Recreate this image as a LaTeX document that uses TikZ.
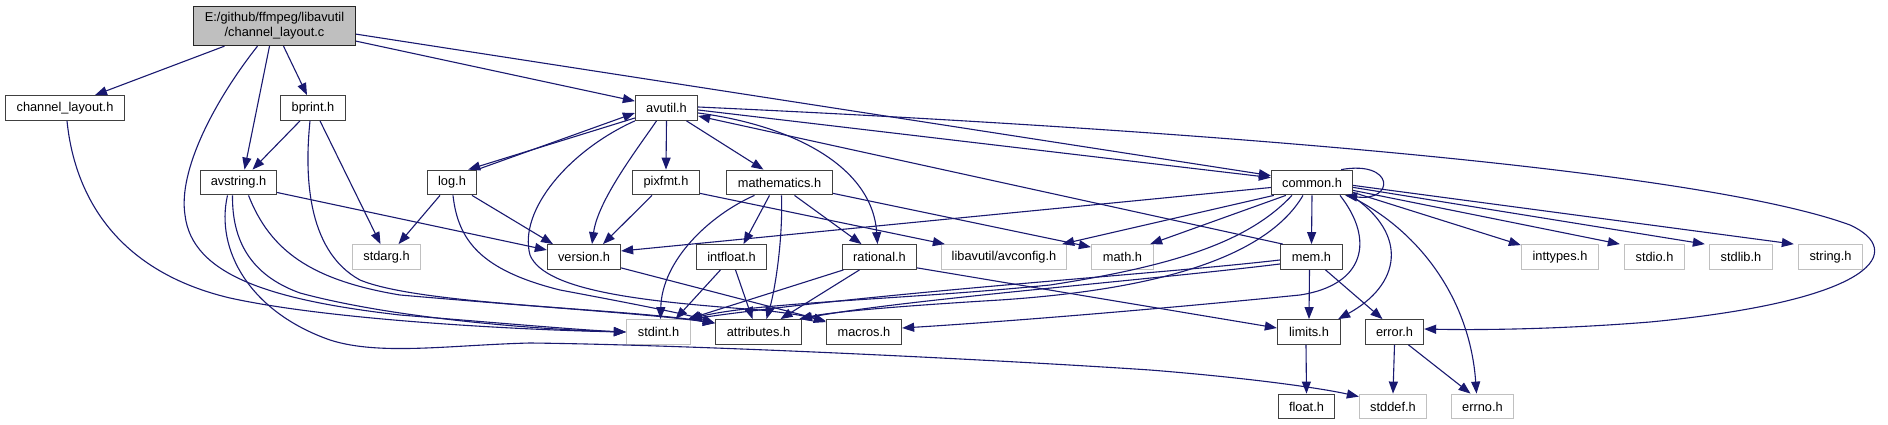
\documentclass[tikz,border=0pt]{standalone}
\usepackage{fontspec}
\setmainfont{Liberation Sans}
\usetikzlibrary{arrows.meta}
\definecolor{edgeblue}{HTML}{191970}
\definecolor{rootgray}{HTML}{BFBFBF}
\definecolor{lightborder}{HTML}{C0C0C0}
\definecolor{darkborder}{HTML}{404040}
\begin{document}
\begin{tikzpicture}[x=1pt,y=-1pt,
  box/.style={draw=darkborder, fill=white, line width=1.3pt, minimum height=24.5pt, inner sep=0pt, font=\fontsize{12.8}{15}\selectfont, anchor=center},
  gbox/.style={box, draw=lightborder},
  rbox/.style={box, fill=rootgray, draw=black!85, align=center, minimum height=39pt},
  edge/.style={draw=edgeblue, line width=1.1pt, -{Triangle[length=12pt,width=9pt]}}
]
\fill[white] (0,0) rectangle (1888,425);
\useasboundingbox (0,0) rectangle (1888,425);

% nodes
\node[rbox, minimum width=162pt] (root) at (274.5,26) {E:/github/ffmpeg/libavutil\\/channel\_layout.c};
\node[box, minimum width=119pt] (chlh) at (65,108) {channel\_layout.h};
\node[box, minimum width=65pt] (bprint) at (313,108) {bprint.h};
\node[box, minimum width=62pt] (avutil) at (666.5,108) {avutil.h};
\node[box, minimum width=76pt] (avstring) at (238.5,182.5) {avstring.h};
\node[box, minimum width=49pt] (logh) at (452,182.5) {log.h};
\node[box, minimum width=67pt] (pixfmt) at (666,182.5) {pixfmt.h};
\node[box, minimum width=106pt] (mathematics) at (779.5,182.5) {mathematics.h};
\node[box, minimum width=81pt] (common) at (1312,182.5) {common.h};
\node[gbox, minimum width=68pt] (stdarg) at (386.5,257) {stdarg.h};
\node[box, minimum width=73pt] (version) at (584,257) {version.h};
\node[box, minimum width=70pt] (intfloat) at (731.5,257) {intfloat.h};
\node[box, minimum width=74pt] (rational) at (879.5,257) {rational.h};
\node[gbox, minimum width=125pt] (avconfig) at (1004,257) {libavutil/avconfig.h};
\node[gbox, minimum width=62pt] (mathh) at (1122.5,257) {math.h};
\node[box, minimum width=62pt] (mem) at (1311.5,257) {mem.h};
\node[gbox, minimum width=77pt] (inttypes) at (1560,257) {inttypes.h};
\node[gbox, minimum width=60pt] (stdio) at (1654.5,257) {stdio.h};
\node[gbox, minimum width=63pt] (stdlib) at (1741,257) {stdlib.h};
\node[gbox, minimum width=64pt] (stringh) at (1830.5,257) {string.h};
\node[gbox, minimum width=64pt] (stdint) at (658.5,332) {stdint.h};
\node[box, minimum width=86pt] (attributes) at (758.5,332) {attributes.h};
\node[box, minimum width=75pt] (macros) at (864,332) {macros.h};
\node[box, minimum width=63pt] (limits) at (1309,332) {limits.h};
\node[box, minimum width=58pt] (error) at (1394.5,332) {error.h};
\node[box, minimum width=56pt] (floath) at (1306.5,406.5) {float.h};
\node[gbox, minimum width=67pt] (stddef) at (1393,406.5) {stddef.h};
\node[gbox, minimum width=62pt] (errno) at (1482.5,406.5) {errno.h};

% root edges
\draw[edge] ([shift={(-50,0)}]root.south) -- ([shift={(30,0)}]chlh.north);
\draw[edge] ([shift={(-5,0)}]root.south) -- ([shift={(6,0)}]avstring.north);
\draw[edge] ([shift={(9,0)}]root.south) -- ([shift={(-6,0)}]bprint.north);
\draw[edge] ([shift={(0,-5)}]root.south east) -- ([shift={(0,6)}]avutil.north west);
\draw[edge] ([shift={(0,-12)}]root.south east) -- ([shift={(0,6)}]common.north west);
\draw[edge] ([shift={(-17,0)}]root.south) .. controls (215,100) and (178,170) .. (185,215)
  .. controls (192,275) and (270,300) .. (400,315) .. controls (500,323) and (580,330) .. (stdint.west);

% channel_layout.h
\draw[edge] ([shift={(2,0)}]chlh.south) .. controls (75,200) and (120,272) .. (230,298)
  .. controls (330,320) and (520,330) .. (stdint.west);

% bprint.h
\draw[edge] ([shift={(-13,0)}]bprint.south) -- ([shift={(14,0)}]avstring.north);
\draw[edge] ([shift={(7,0)}]bprint.south) -- ([shift={(-6,0)}]stdarg.north);
\draw[edge] ([shift={(-3,0)}]bprint.south) .. controls (305,170) and (305,250) .. (360,280)
  .. controls (420,305) and (620,308) .. ([shift={(0,4)}]attributes.north west);

% avstring.h
\draw[edge] ([shift={(0,10)}]avstring.east) -- ([shift={(0,-7)}]version.west);
\draw[edge] ([shift={(-6,0)}]avstring.south) .. controls (232,240) and (250,275) .. (300,293)
  .. controls (400,320) and (550,330) .. (stdint.west);
\draw[edge] ([shift={(10,0)}]avstring.south) .. controls (270,250) and (310,280) .. (400,295)
  .. controls (550,308) and (650,314) .. ([shift={(0,4)}]attributes.north west);
\draw[edge] ([shift={(-11,0)}]avstring.south) .. controls (215,250) and (250,312) .. (330,340)
  .. controls (380,356) and (450,345) .. (530,343) .. controls (700,345) and (1000,360) .. (1150,370)
  .. controls (1250,378) and (1320,388) .. ([shift={(0,3)}]stddef.north west);

% log.h
\draw[edge] ([shift={(0,0)}]logh.north east) -- ([shift={(0,5)}]avutil.west);
\draw[edge] ([shift={(0,10)}]avutil.west) -- ([shift={(-9,0)}]logh.north east);
\draw[edge] ([shift={(-12,0)}]logh.south) -- ([shift={(12,0)}]stdarg.north);
\draw[edge] ([shift={(20,0)}]logh.south) -- ([shift={(-31,0)}]version.north);
\draw[edge] ([shift={(1,0)}]logh.south) .. controls (458,240) and (480,270) .. (560,290)
  .. controls (640,305) and (690,315) .. ([shift={(0,4)}]attributes.north west);

% avutil.h
\draw[edge] (avutil.south) -- (pixfmt.north);
\draw[edge] ([shift={(20,0)}]avutil.south) -- ([shift={(-16,0)}]mathematics.north);
\draw[edge] ([shift={(-10,0)}]avutil.south) .. controls (638,148) and (598,200) .. ([shift={(8,0)}]version.north);
\draw[edge] (avutil.south west) .. controls (570,150) and (518,210) .. (530,255)
  .. controls (545,292) and (650,302) .. (760,310) .. controls (790,313) and (810,317) .. ([shift={(0,3)}]macros.north west);
\draw[edge] ([shift={(0,5)}]avutil.east) .. controls (790,125) and (872,165) .. ([shift={(-2,0)}]rational.north);
\draw[edge] ([shift={(0,2)}]avutil.east) -- ([shift={(0,8)}]common.north west);
\draw[edge] ([shift={(0,-1)}]avutil.east) .. controls (1200,130) and (1700,170) .. (1850,225)
  .. controls (1905,250) and (1880,300) .. (1650,322) .. controls (1550,330) and (1470,330) .. ([shift={(0,-3)}]error.east);

% pixfmt.h
\draw[edge] ([shift={(-14,0)}]pixfmt.south) -- ([shift={(19,0)}]version.north);
\draw[edge] ([shift={(0,-2)}]pixfmt.south east) -- ([shift={(4,0)}]avconfig.north west);

% mathematics.h
\draw[edge] ([shift={(-10,0)}]mathematics.south) -- ([shift={(12,0)}]intfloat.north);
\draw[edge] ([shift={(2,0)}]mathematics.south) .. controls (783,240) and (775,290) .. ([shift={(8,0)}]attributes.north);
\draw[edge] ([shift={(15,0)}]mathematics.south) -- ([shift={(-18,0)}]rational.north);
\draw[edge] ([shift={(-25,0)}]mathematics.south) .. controls (710,215) and (662,260) .. ([shift={(2,0)}]stdint.north);
\draw[edge] ([shift={(0,-2)}]mathematics.south east) -- ([shift={(0,3)}]mathh.north west);

% intfloat.h
\draw[edge] ([shift={(-11,0)}]intfloat.south) -- ([shift={(17,0)}]stdint.north);
\draw[edge] ([shift={(4,0)}]intfloat.south) -- ([shift={(-6,0)}]attributes.north);

% rational.h
\draw[edge] ([shift={(-36,0)}]rational.south) -- ([shift={(-3,0)}]stdint.north east);
\draw[edge] ([shift={(-20,0)}]rational.south) -- ([shift={(22,0)}]attributes.north);
\draw[edge] ([shift={(0,-2)}]rational.south east) -- ([shift={(0,-4)}]limits.west);

% version.h
\draw[edge] ([shift={(0,-2)}]version.south east) -- ([shift={(0,2)}]macros.north west);

% common.h
\draw[edge] ([shift={(0,5)}]common.west) -- ([shift={(0,-6)}]version.east);
\draw[edge] ([shift={(3,0)}]common.south west) -- ([shift={(-5,0)}]avconfig.north east);
\draw[edge] ([shift={(15,0)}]common.south west) -- ([shift={(-4,0)}]mathh.north east);
\draw[edge] ([shift={(-20,0)}]common.south) .. controls (1250,240) and (1180,265) .. (1050,285)
  .. controls (900,300) and (760,302) .. ([shift={(-2,0)}]stdint.north east);
\draw[edge] ([shift={(-9,0)}]common.south) .. controls (1265,260) and (1150,290) .. (1000,300)
  .. controls (900,306) and (830,312) .. ([shift={(-3,0)}]attributes.north east);
\draw[edge] ([shift={(28,0)}]common.south) .. controls (1375,240) and (1365,285) .. (1300,295)
  .. controls (1150,310) and (1000,322) .. ([shift={(0,-4)}]macros.east);
\draw[edge] (common.south) -- (mem.north);
\draw[edge] ([shift={(-2,0)}]common.south east) .. controls (1410,235) and (1400,285) .. ([shift={(-3,0)}]limits.north east);
\draw[edge] ([shift={(-5,0)}]common.south east) .. controls (1420,230) and (1470,300) .. ([shift={(-6,0)}]errno.north);
\draw[edge] ([shift={(0,-3)}]common.south east) -- ([shift={(0,1)}]inttypes.north west);
\draw[edge] ([shift={(0,-5)}]common.south east) -- ([shift={(-4,0)}]stdio.north west);
\draw[edge] ([shift={(0,-8)}]common.south east) -- ([shift={(-4,0)}]stdlib.north west);
\draw[edge] ([shift={(0,-10)}]common.south east) -- ([shift={(-4,0)}]stringh.north west);
\draw[edge] ([shift={(-12,0)}]common.north east) .. controls (1395,160) and (1395,202) .. ([shift={(-8,0)}]common.south east);

% mem.h
\draw[edge] ([shift={(3,0)}]mem.north west) -- ([shift={(0,8)}]avutil.east);
\draw[edge] ([shift={(0,3)}]mem.west) .. controls (1150,275) and (900,290) .. ([shift={(-1,0)}]stdint.north east);
\draw[edge] ([shift={(0,7)}]mem.west) .. controls (1150,280) and (900,300) .. ([shift={(-2,0)}]attributes.north east);
\draw[edge] ([shift={(-2,0)}]mem.south) -- (limits.north);
\draw[edge] ([shift={(14,0)}]mem.south) -- ([shift={(-12,0)}]error.north);

% limits.h, error.h
\draw[edge] ([shift={(-3,0)}]limits.south) -- (floath.north);
\draw[edge] (error.south) -- (stddef.north);
\draw[edge] ([shift={(14,0)}]error.south) -- ([shift={(-12,0)}]errno.north);
\end{tikzpicture}
\end{document}
